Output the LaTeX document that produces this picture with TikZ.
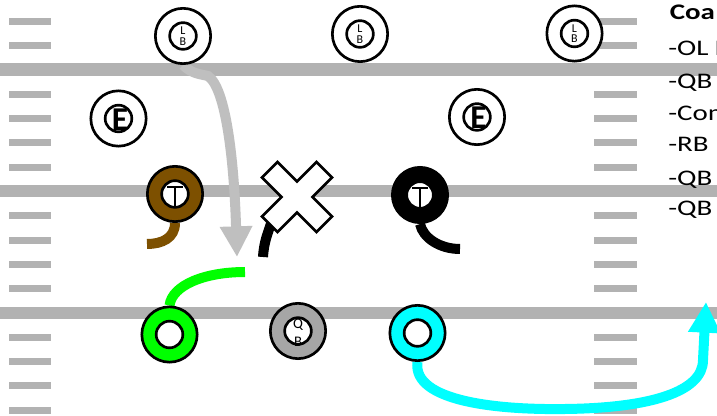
\documentclass[tikz,border=0pt]{standalone}
\usepackage{fontspec}
\setmainfont{Carlito}
\newfontfamily\notefont[FakeStretch=1.3]{Carlito}
\usetikzlibrary{arrows.meta}

\definecolor{fieldgray}{RGB}{178,178,178}
\definecolor{routegray}{RGB}{191,191,191}
\definecolor{tackbrown}{RGB}{125,80,0}
\definecolor{qbgray}{RGB}{166,166,166}
\definecolor{wrgreen}{RGB}{0,255,0}
\definecolor{rbcyan}{RGB}{0,255,255}

\pgfdeclarelayer{background}
\pgfsetlayers{background,main}

\tikzset{
  outerring/.style={circle, draw=black, line width=2pt, minimum size=41.5pt, inner sep=0pt},
  innerring/.style={circle, draw=black, fill=white, line width=2pt, minimum size=20pt, inner sep=0pt},
  route/.style={line width=7.5pt},
  tinylabel/.style={inner sep=0pt, font=\fontsize{9}{9}\selectfont},
  qblabel/.style={inner sep=0pt, font=\fontsize{11}{11}\selectfont},
  endlabel/.style={inner sep=0pt, font=\bfseries\fontsize{25}{25}\selectfont},
  tletter/.style={line width=1.5pt},
  notetext/.style={anchor=base west, inner sep=0pt, font=\notefont\fontsize{16.7}{16.7}\selectfont},
  notehead/.style={anchor=base west, inner sep=0pt, font=\notefont\bfseries\fontsize{16.7}{16.7}\selectfont},
  crossbox/.style={draw=black, fill=white, line width=2pt, line join=miter},
}

\begin{document}
\begin{tikzpicture}[x=0.75pt, y=-0.75pt]
\clip (0,0) rectangle (717,416);

% field: yard lines and hash marks
\begin{pgfonlayer}{background}
  \fill[white] (0,0) rectangle (717,416);
  \foreach \yy in {69.7,191.2,313}
    \fill[fieldgray] (0,{\yy-6.3}) rectangle (717,{\yy+6.3});
  \foreach \k in {-3,-2,-1,1,2,3,4,6,7,8,9,11,12,13,14}{
    \pgfmathsetmacro\hy{69.7+24.33*\k}
    \fill[fieldgray] (9,{\hy-3.5}) rectangle (51,{\hy+3.5});
    \fill[fieldgray] (594,{\hy-3.5}) rectangle (637,{\hy+3.5});
  }
\end{pgfonlayer}

% linebackers
\foreach \nm/\px/\py in {lb1/183/36, lb2/360/34, lb3/574.5/33.5}{
  \node[outerring, fill=white] (\nm) at (\px,\py) {};
  \node[innerring] (\nm-in) at (\nm.center) {};
  \node[tinylabel] at (\px,{\py-5}) {L};
  \node[tinylabel] at (\px,{\py+5.5}) {B};
}

% ends
\foreach \nm/\px/\py in {e1/118.5/118.5, e2/477/117}{
  \node[outerring, fill=white] (\nm) at (\px,\py) {};
  \node[innerring] (\nm-in) at (\nm.center) {};
  \node[endlabel] at ({\px+1.5},{\py+1}) {E};
}

% tackles
\node[outerring, fill=tackbrown] (tl) at (175,194) {};
\node[innerring] (tl-in) at (tl.center) {};
\node[outerring, fill=black] (tr) at (420,195) {};
\node[innerring] (tr-in) at (tr.center) {};
\foreach \nm in {tl,tr}{
  \draw[tletter] ([shift={(-8,-7)}]\nm.center) -- ([shift={(8,-7)}]\nm.center);
  \draw[tletter] ([shift={(0,-7)}]\nm.center) -- ([shift={(0,13)}]\nm.center);
}

% nose guard
\coordinate (nose) at (297,197);
\begin{scope}[shift={(nose)}, rotate=45]
  \draw[crossbox] (-11,-38.5) -- (11,-38.5) -- (11,-11) -- (38.5,-11) -- (38.5,11)
    -- (11,11) -- (11,38.5) -- (-11,38.5) -- (-11,11) -- (-38.5,11) -- (-38.5,-11)
    -- (-11,-11) -- cycle;
\end{scope}
\coordinate (nosefoot) at (271.5,222);
\coordinate (noseend) at (263,257);

% offense
\node[outerring, fill=wrgreen] (wr) at (169.5,334.5) {};
\node[innerring] (wr-in) at (wr.center) {};
\node[outerring, fill=qbgray] (qb) at (298,331) {};
\node[innerring] (qb-in) at (qb.center) {};
\node[qblabel] at (298,325) {Q};
\node[qblabel] at (298,342) {B};
\node[outerring, fill=rbcyan] (rb) at (417.5,333) {};
\node[innerring] (rb-in) at (rb.center) {};

% route ends
\coordinate (lbdrop) at (237,257);
\coordinate (tlend) at (147,244);
\coordinate (trend) at (460,249);
\coordinate (wrend) at (245,272);
\coordinate (rbend) at (706,302);

% routes and tails, kept under the players
\begin{pgfonlayer}{background}
  \draw[route, routegray, -{Triangle[length=23pt,width=23pt]}]
    (lb1.south) .. controls (192,74) and (200,74) .. (208,76)
    .. controls (226,88) and (234,160) .. (lbdrop);
  \draw[route, tackbrown] (tl.south) .. controls (175,238) and (162,244) .. (tlend);
  \draw[route, black] (tr.south) .. controls (423,238) and (440,249) .. (trend);
  \draw[route, black] (nosefoot) .. controls (268,233) and (264,241) .. (noseend);
  \draw[route, wrgreen] (wr.north) .. controls (172,285) and (205,272) .. (wrend);
  \draw[route, rbcyan, -{Triangle[length=23pt,width=23pt]}]
    (rb.south) .. controls (412,402) and (500,410) .. (565,409)
    .. controls (650,408) and (703,392) .. (703,360) -- (rbend);
\end{pgfonlayer}

% coaching notes
\node[notehead] (n0) at (669.5,19.5) {Coa};
\node[notetext] (n1) at (668,55.5) {-OL F};
\node[notetext] (n2) at (668,89) {-QB -};
\node[notetext] (n3) at (668,120.5) {-Com};
\node[notetext] (n4) at (668,152) {-RB E};
\node[notetext] (n5) at (668,185.5) {-QB p};
\node[notetext] (n6) at (668,215.7) {-QB t};
\end{tikzpicture}
\end{document}
